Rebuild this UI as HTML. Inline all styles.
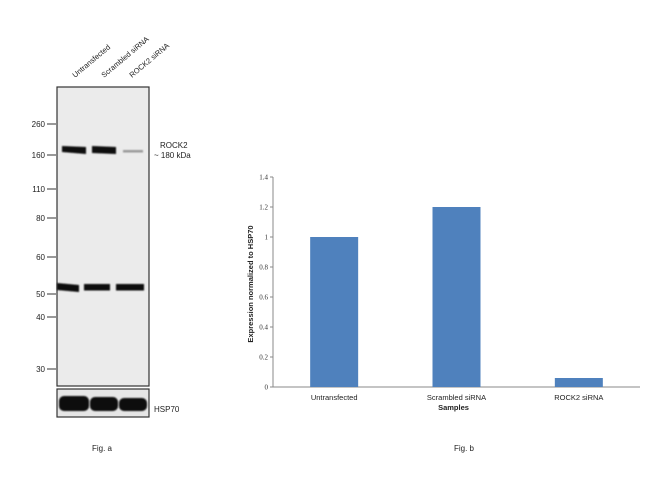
<!DOCTYPE html>
<html><head><meta charset="utf-8"><style>
body{margin:0;background:#fff;font-family:"Liberation Sans",sans-serif;}
#root{position:relative;width:650px;height:486px;overflow:hidden;}
</style></head><body>
<div id="root">
<svg width="650" height="486" xmlns="http://www.w3.org/2000/svg">
 <defs>
  <filter id="blur"><feGaussianBlur stdDeviation="0.7"/></filter>
 </defs>
 <g>
  <rect x="57" y="87" width="92" height="299" fill="#ebebeb" stroke="#333" stroke-width="1.2"/>
  <rect x="57" y="389" width="92" height="28" fill="#e6e6e6" stroke="#333" stroke-width="1.2"/>
  <g filter="url(#blur)" fill="#0a0a0a">
   <path d="M62 146 L86 147 L86 154 L62 152 Z"/>
   <path d="M92 146 L116 147 L116 154 L92 153 Z"/>
   <rect x="123" y="150" width="20" height="2.5" fill="#999"/>
   <path d="M57 283 L79 285 L79 292 L57 290 Z"/>
   <rect x="84" y="284" width="26" height="6.5"/>
   <rect x="116" y="284" width="28" height="6.5"/>
   <rect x="59" y="396" width="30" height="15" rx="5"/>
   <rect x="90" y="397" width="28" height="14" rx="5"/>
   <rect x="119" y="398" width="28" height="13" rx="5"/>
  </g>
  <g font-size="8" fill="#222" text-anchor="end">
   <text x="45" y="127">260</text><line x1="47" y1="124" x2="56" y2="124" stroke="#333"/>
   <text x="45" y="158">160</text><line x1="47" y1="155" x2="56" y2="155" stroke="#333"/>
   <text x="45" y="192">110</text><line x1="47" y1="189" x2="56" y2="189" stroke="#333"/>
   <text x="45" y="221">80</text><line x1="47" y1="218" x2="56" y2="218" stroke="#333"/>
   <text x="45" y="260">60</text><line x1="47" y1="257" x2="56" y2="257" stroke="#333"/>
   <text x="45" y="297">50</text><line x1="47" y1="294" x2="56" y2="294" stroke="#333"/>
   <text x="45" y="320">40</text><line x1="47" y1="317" x2="56" y2="317" stroke="#333"/>
   <text x="45" y="372">30</text><line x1="47" y1="369" x2="56" y2="369" stroke="#333"/>
  </g>
  <g font-size="7.5" fill="#222">
   <text transform="translate(75,78) rotate(-40)">Untransfected</text>
   <text transform="translate(104,78) rotate(-40)">Scrambled siRNA</text>
   <text transform="translate(132,78) rotate(-40)">ROCK2 siRNA</text>
  </g>
  <text x="160" y="148" font-size="8" fill="#222">ROCK2</text>
  <text x="154" y="158" font-size="8" fill="#222">~ 180 kDa</text>
  <text x="154" y="412" font-size="8" fill="#222">HSP70</text>
  <text x="92" y="451" font-size="8" fill="#222">Fig. a</text>
 </g>
 <g id="chart"></g>
 <text x="454" y="451" font-size="8" fill="#222">Fig. b</text>
</svg>
</div>
<script>
const categories = ["Untransfected", "Scrambled siRNA", "ROCK2 siRNA"];
const values = [1.0, 1.2, 0.06];
const yTicks = [0, 0.2, 0.4, 0.6, 0.8, 1, 1.2, 1.4];
const yTickLabels = ["0", "0.2", "0.4", "0.6", "0.8", "1", "1.2", "1.4"];

const NS = "http://www.w3.org/2000/svg";
const g = document.getElementById("chart");
const X0 = 273, X1 = 640, Y0 = 387, Y1 = 177, YMAX = 1.4;
const yScale = v => Y0 - (v / YMAX) * (Y0 - Y1);
const band = (X1 - X0) / categories.length;
const xCenter = i => X0 + band * (i + 0.5);
const barW = 48;
function mk(tag, attrs, text) {
  const e = document.createElementNS(NS, tag);
  for (const k in attrs) e.setAttribute(k, attrs[k]);
  if (text !== undefined) e.textContent = text;
  g.appendChild(e);
  return e;
}
let ax = mk("line", {x1: X0, y1: Y1, x2: X0, y2: Y0, stroke: "#888", "stroke-width": 1});


let xa = mk("line", {x1: X0, y1: Y0, x2: X1, y2: Y0, stroke: "#888", "stroke-width": 1});


yTicks.forEach((t, i) => {
  const y = yScale(t);
  const tk = mk("line", {x1: X0 - 3, y1: y, x2: X0, y2: y, stroke: "#888"});
  
  
  const lb = mk("text", {x: X0 - 5, y: y + 2.5, "font-size": 7, "text-anchor": "end", fill: "#333", "font-family": "Liberation Serif, serif"}, yTickLabels[i]);
  
  
});
categories.forEach((c, i) => {
  const cx = xCenter(i);
  const r = mk("rect", {x: cx - barW / 2, y: yScale(values[i]), width: barW, height: Y0 - yScale(values[i]), fill: "#4f81bd"});
  
  
  const lb = mk("text", {x: cx, y: Y0 + 13, "font-size": 7.5, "text-anchor": "middle", fill: "#222"}, c);
  
  
});
const xt = mk("text", {x: (X0 + X1) / 2 - 3, y: 410, "font-size": 7.5, "font-weight": "bold", "text-anchor": "middle", fill: "#222"}, "Samples");


const yt = mk("text", {transform: "translate(253," + ((Y0 + Y1) / 2 + 2) + ") rotate(-90)", "font-size": 7.5, "font-weight": "bold", "text-anchor": "middle", fill: "#222"}, "Expression normalized to HSP70");


</script>
</body></html>
